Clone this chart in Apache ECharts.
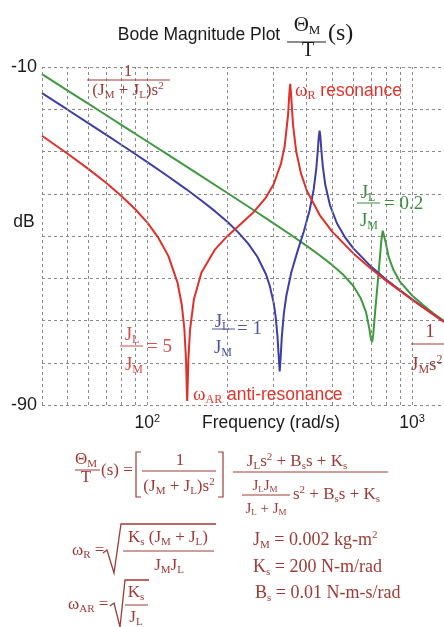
<!DOCTYPE html>
<html><head><meta charset="utf-8">
<script src="https://cdn.jsdelivr.net/npm/echarts@6/dist/echarts.min.js"></script>
<style>html,body{margin:0;padding:0;background:#fff;overflow:hidden}#c{width:444px;height:627px}</style>
</head><body><div id="c"></div><script>
// ---- data (frequency in rad/s, magnitude in dB) ----
const redFreq = [40,50,60,70,80,90,100,110,120,130,135,138,140,141,141.42,142,143,145,150,160,180,200,220,250,280,300,320,330,340,344,346.4,349,355,365,380,400,450,500,600,700,800,1000,1200,1320];
const redDb = [-26.27,-30.52,-34.17,-37.47,-40.58,-43.66,-46.85,-50.39,-54.70,-61.02,-66.40,-72.00,-79.36,-86.68,-89.03,-85.37,-78.74,-72.09,-64.89,-58.72,-53.21,-50.10,-47.75,-44.57,-40.96,-37.75,-32.82,-28.83,-21.39,-16.09,-13.96,-16.40,-23.64,-29.98,-35.06,-39.22,-45.25,-49.02,-54.12,-57.75,-60.62,-65.09,-68.55,-70.33];
const blueFreq = [40,50,60,70,80,90,100,120,140,160,180,200,220,240,260,280,290,300,305,310,313,316.2,319,322,328,335,350,370,390,410,425,435,441,444,447.2,450,454,460,470,490,520,560,600,700,800,1000,1200,1320];
const blueDb = [-16.19,-20.11,-23.33,-26.07,-28.46,-30.59,-32.51,-35.91,-38.89,-41.59,-44.12,-46.58,-49.08,-51.75,-54.85,-58.92,-61.77,-65.83,-68.91,-73.55,-77.84,-82.04,-78.50,-73.93,-68.17,-64.15,-58.53,-53.41,-48.93,-43.94,-38.98,-33.85,-29.27,-26.63,-25.05,-26.17,-29.42,-33.50,-37.88,-42.76,-46.98,-50.46,-52.93,-57.25,-60.37,-65.00,-68.51,-70.30];
const greenFreq = [40,50,60,70,80,100,120,150,200,250,300,350,400,450,500,550,600,640,670,690,700,707.1,714,725,740,755,765,774.6,783,795,815,850,900,1000,1100,1200,1320];
const greenDb = [-11.69,-15.57,-18.74,-21.42,-23.75,-27.63,-30.81,-34.72,-39.77,-43.73,-47.00,-49.83,-52.34,-54.67,-56.90,-59.19,-61.83,-64.74,-68.04,-72.05,-74.56,-75.05,-73.09,-67.92,-61.73,-55.42,-51.26,-48.75,-49.16,-51.55,-54.90,-58.01,-60.81,-64.08,-66.36,-68.21,-70.11];
const gridFreq = [40,50,60,70,80,90,100,200,300,400,500,600,700,800,900,1000];
const xTickLabels = {100: '2', 1000: '3'};
const yShownLabels = [-10, -90];

const SERIF = '"Liberation Serif","Times New Roman",serif';
const SANS = '"Liberation Sans",Arial,sans-serif';
const INK = '#1a1a1a', BR = '#9e3a35', RED = '#e2332b', PINK = '#cf514b', BLUE = '#4f549f', GRN = '#3c8c3c';
const GRID = '#8a8a8a';

function richStyles(size, color, fam) {
  const s = Math.round(size * 0.62);
  const f = fam || SERIF;
  return {
    n: {fontFamily: f, fontSize: size, lineHeight: Math.round(size * 1.15), fill: color},
    s: {fontFamily: f, fontSize: s, lineHeight: s, verticalAlign: 'bottom', fill: color},
    p: {fontFamily: f, fontSize: s, lineHeight: s, verticalAlign: 'top', fill: color},
    a: {fontFamily: SANS, fontSize: size * 0.92, lineHeight: Math.round(size * 1.15), fill: color}
  };
}
function T(x, y, text, size, color, align, fam) {
  return {type: 'text', silent: true, z: 100, style: {x: x, y: y, text: text, align: align || 'left', verticalAlign: 'middle',
    rich: richStyles(size, color, fam), fill: color, fontSize: size, fontFamily: fam || SERIF}};
}
function L(x1, y1, x2, y2, color, w) {
  return {type: 'line', silent: true, z: 100, shape: {x1: x1, y1: y1, x2: x2, y2: y2}, style: {stroke: color, lineWidth: w || 1}};
}
function P(points, color, w) {
  return {type: 'polyline', silent: true, z: 100, shape: {points: points}, style: {stroke: color, lineWidth: w || 1, fill: null}};
}

const graphics = [
  // title
  T(199, 35, '{n|Bode Magnitude Plot}', 17.5, INK, 'center', SANS),
  T(307, 25, '{n|Θ}{s|M}', 21, INK, 'center'),
  L(287, 42, 326, 42, INK, 1),
  T(308, 51, '{n|T}', 20, INK, 'center'),
  T(328, 34, '{n|(s)}', 24, INK, 'left'),
  // axis titles
  T(24, 222, '{n|dB}', 17.5, INK, 'center', SANS),
  T(271, 423, '{n|Frequency (rad/s)}', 17.5, INK, 'center', SANS),
  // in-plot annotations
  T(128, 72, '{n|1}', 17, BR, 'center'),
  L(87, 80, 170, 80, BR, 1),
  T(128, 91, '{n|(J}{s|M}{n| + J}{s|L}{n|)s}{p|2}', 17, BR, 'center'),
  T(295, 91, '{n|ω}{s|R}{a| resonance}', 19, RED, 'left'),
  T(368, 193, '{n|J}{s|L}', 19, GRN, 'center'),
  L(357, 203, 380, 203, GRN, 1),
  T(369, 221, '{n|J}{s|M}', 19, GRN, 'center'),
  T(384, 204, '{n|= 0.2}', 19, GRN, 'left'),
  T(132, 335, '{n|J}{s|L}', 19, PINK, 'center'),
  L(120, 346, 143, 346, PINK, 1),
  T(134, 365, '{n|J}{s|M}', 19, PINK, 'center'),
  T(147, 347, '{n|= 5}', 19, PINK, 'left'),
  T(222, 322, '{n|J}{s|L}', 19, BLUE, 'center'),
  L(212, 329, 235, 329, BLUE, 1),
  T(223, 348, '{n|J}{s|M}', 19, BLUE, 'center'),
  T(237, 329, '{n|= 1}', 19, BLUE, 'left'),
  T(193, 395, '{n|ω}{s|AR}{a| anti-resonance}', 19, RED, 'left'),
  T(430, 332, '{n|1}', 19, BR, 'center'),
  L(411, 344, 450, 344, BR, 1),
  T(411, 365, '{n|J}{s|M}{n|s}{p|2}', 19, BR, 'left'),
  // transfer function
  T(86, 460, '{n|Θ}{s|M}', 17, BR, 'center'),
  L(75, 470, 100, 470, BR, 1),
  T(86, 478, '{n|T}', 17, BR, 'center'),
  T(101, 471, '{n|(s) =}', 17, BR, 'left'),
  P([[141, 452], [136, 452], [136, 497], [141, 497]], BR, 1.2),
  P([[218, 452], [223, 452], [223, 497], [218, 497]], BR, 1.2),
  T(180, 461, '{n|1}', 17, BR, 'center'),
  L(142, 471, 216, 471, BR, 1),
  T(179, 487, '{n|(J}{s|M}{n| + J}{s|L}{n|)s}{p|2}', 17, BR, 'center'),
  T(297, 462, '{n|J}{s|L}{n|s}{p|2}{n| + B}{s|s}{n|s + K}{s|s}', 17, BR, 'center'),
  L(233, 472, 388, 472, BR, 1),
  T(265, 486, '{n|J}{s|L}{n|J}{s|M}', 15, BR, 'center'),
  L(242, 495, 290, 495, BR, 1),
  T(266, 509, '{n|J}{s|L}{n| + J}{s|M}', 15, BR, 'center'),
  T(293, 495, '{n|s}{p|2}{n| + B}{s|s}{n|s + K}{s|s}', 17, BR, 'left'),
  // resonance formulas
  T(72, 551, '{n|ω}{s|R}{n| =}', 17, BR, 'left'),
  P([[103, 553], [107, 550], [114, 573], [121, 524], [216, 524]], BR, 1.3),
  T(168, 538, '{n|K}{s|s}{n| (J}{s|M}{n| + J}{s|L}{n|)}', 17, BR, 'center'),
  L(123, 551, 214, 551, BR, 1),
  T(169, 566, '{n|J}{s|M}{n|J}{s|L}', 17, BR, 'center'),
  T(253, 540, '{n|J}{s|M}{n| = 0.002 kg-m}{p|2}', 18, BR, 'left'),
  T(253, 567, '{n|K}{s|s}{n| = 200 N-m/rad}', 18, BR, 'left'),
  T(255, 593, '{n|B}{s|s}{n| = 0.01 N-m-s/rad}', 18, BR, 'left'),
  T(68, 605, '{n|ω}{s|AR}{n| =}', 17, BR, 'left'),
  P([[110, 606], [114, 603], [120, 627], [125, 580], [149, 580]], BR, 1.3),
  T(136, 593, '{n|K}{s|s}', 17, BR, 'center'),
  L(125, 605, 148, 605, BR, 1),
  T(136, 618, '{n|J}{s|L}', 17, BR, 'center')
];

const pairs = (fs, ds) => fs.map((f, i) => [f, ds[i]]);
const curve = (name, fs, ds, color) => ({
  type: 'line', name: name, data: pairs(fs, ds), showSymbol: false, symbol: 'none', smooth: false,
  lineStyle: {color: color, width: 2}, itemStyle: {color: color}, z: 3, silent: true
});

const chart = echarts.init(document.getElementById('c'), null, {renderer: 'canvas'});
chart.setOption({
  animation: false,
  backgroundColor: '#fff',
  grid: {left: 42, right: 0, top: 67, bottom: 222, containLabel: false, outerBoundsMode: 'none'},
  xAxis: {
    type: 'log', logBase: 10, min: 40, max: 1320,
    axisLine: {show: false}, axisTick: {show: false}, splitLine: {show: false}, minorSplitLine: {show: false},
    axisLabel: {
      margin: 8, hideOverlap: false, showMinLabel: true, showMaxLabel: true,
      formatter: function (v) {
        for (const k in xTickLabels) { if (Math.abs(v - Number(k)) < 1e-6 * Number(k)) return '{b|10}{p|' + xTickLabels[k] + '}'; }
        return '';
      },
      rich: {
        b: {fontSize: 17.5, fontFamily: SANS, color: INK, lineHeight: 20},
        p: {fontSize: 11, fontFamily: SANS, color: INK, lineHeight: 11, verticalAlign: 'top'}
      }
    }
  },
  yAxis: {
    type: 'value', min: -90, max: -10, interval: 10,
    axisLine: {show: false}, axisTick: {show: false},
    splitLine: {show: true, lineStyle: {color: GRID, type: [3, 3], width: 1}},
    axisLabel: {margin: 5, fontSize: 18, fontFamily: SANS, color: INK,
      formatter: function (v) { return yShownLabels.indexOf(v) >= 0 ? String(v) : ''; }}
  },
  series: [
    {type: 'line', data: [[40, -90]], symbol: 'none', lineStyle: {opacity: 0}, silent: true, z: 1,
      markLine: {silent: true, symbol: ['none', 'none'], label: {show: false}, animation: false,
        lineStyle: {color: GRID, type: [3, 3], width: 1},
        data: gridFreq.map(f => ({xAxis: f}))}},
    curve('JL/JM=0.2', greenFreq, greenDb, '#3f9a3f'),
    curve('JL/JM=1', blueFreq, blueDb, '#3b3fa6'),
    curve('JL/JM=5', redFreq, redDb, '#e0302a')
  ],
  graphic: {elements: graphics}
});
</script></body></html>
